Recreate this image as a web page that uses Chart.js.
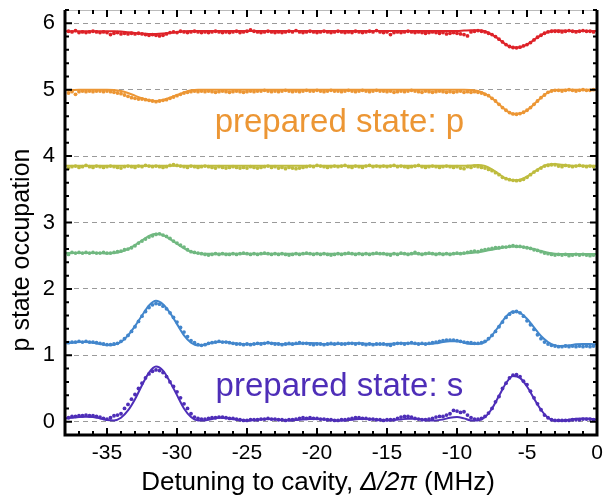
<!DOCTYPE html>
<html>
<head>
<meta charset="utf-8">
<script src="https://cdn.jsdelivr.net/npm/chart.js@4.4.0/dist/chart.umd.min.js"></script>
<style>
  html, body { margin: 0; padding: 0; background: #fff; }
  #wrap { width: 612px; height: 497px; position: relative; }
</style>
</head>
<body>
<div id="wrap"><canvas id="chart"></canvas></div>
<script>
// x grid of the measured points (MHz) and of the fitted curves
const pointX = Array.from({ length: 151 }, (_, i) => -37.75 + 0.25 * i);
const fitX = Array.from({ length: 77 }, (_, i) => -38 + 0.5 * i);

const xTicks = [-35, -30, -25, -20, -15, -10, -5, 0];
const yTicks = [0, 1, 2, 3, 4, 5, 6];

// measured points, one array per prepared state curve
const redPts = [
  5.88,5.87,5.89,5.86,5.87,5.86,5.87,5.88,5.87,5.86,
  5.87,5.86,5.83,5.85,5.86,5.84,5.85,5.84,5.85,5.84,
  5.85,5.84,5.83,5.82,5.83,5.82,5.81,5.82,5.84,5.86,
  5.87,5.86,5.88,5.87,5.86,5.87,5.88,5.87,5.86,5.87,
  5.86,5.87,5.88,5.87,5.86,5.87,5.86,5.87,5.88,5.86,
  5.87,5.88,5.90,5.88,5.87,5.86,5.87,5.88,5.87,5.86,
  5.87,5.86,5.87,5.88,5.87,5.89,5.87,5.86,5.87,5.88,
  5.87,5.86,5.87,5.88,5.87,5.86,5.87,5.88,5.87,5.86,
  5.87,5.86,5.88,5.87,5.86,5.87,5.88,5.87,5.89,5.87,
  5.86,5.87,5.83,5.86,5.87,5.86,5.87,5.88,5.87,5.86,
  5.87,5.86,5.85,5.86,5.87,5.86,5.85,5.86,5.84,5.85,
  5.86,5.85,5.84,5.83,5.81,5.87,5.88,5.89,5.88,5.87,
  5.85,5.83,5.80,5.76,5.72,5.68,5.65,5.635,5.63,5.64,
  5.66,5.68,5.71,5.75,5.79,5.82,5.85,5.87,5.88,5.88,
  5.88,5.87,5.88,5.89,5.88,5.87,5.88,5.89,5.88,5.88,
  5.87
];
const orangePts = [
  4.95,4.97,4.93,4.97,4.98,4.97,4.98,4.97,4.98,4.98,
  4.97,4.98,4.97,4.96,4.95,4.94,4.92,4.90,4.88,4.87,
  4.86,4.86,4.85,4.84,4.83,4.82,4.83,4.84,4.85,4.87,
  4.89,4.91,4.93,4.95,4.96,4.97,4.98,4.97,4.98,4.97,
  4.98,4.97,4.96,4.97,4.98,4.97,4.96,4.97,4.98,4.97,
  4.96,4.97,4.98,4.97,4.98,4.98,4.99,4.98,4.97,4.98,
  4.97,4.98,4.99,4.98,4.97,4.98,4.97,4.98,4.99,4.98,
  4.98,4.99,4.98,4.97,4.98,4.99,4.98,4.98,4.97,4.98,
  4.99,4.98,4.97,4.98,4.99,4.98,4.97,4.98,4.99,4.98,
  4.98,4.97,4.98,4.96,4.97,4.98,4.97,4.98,4.99,4.98,
  4.97,4.96,4.98,4.97,4.96,4.97,4.98,4.97,4.96,4.97,
  4.96,4.97,4.98,4.96,4.97,4.96,4.97,4.96,4.95,4.93,
  4.91,4.87,4.83,4.78,4.73,4.69,4.655,4.635,4.63,4.64,
  4.66,4.69,4.73,4.78,4.83,4.88,4.92,4.96,4.98,4.99,
  4.99,4.98,4.99,5.00,4.99,4.98,4.99,5.00,4.99,4.99,
  5.00
];
const yellowPts = [
  3.82,3.84,3.85,3.83,3.84,3.86,3.84,3.83,3.85,3.84,
  3.83,3.84,3.85,3.84,3.83,3.82,3.84,3.85,3.84,3.83,
  3.85,3.84,3.86,3.85,3.84,3.85,3.84,3.83,3.84,3.86,
  3.87,3.86,3.85,3.84,3.83,3.85,3.84,3.83,3.84,3.85,
  3.84,3.83,3.82,3.84,3.83,3.82,3.83,3.84,3.83,3.82,
  3.83,3.82,3.84,3.83,3.82,3.83,3.84,3.85,3.83,3.84,
  3.82,3.83,3.81,3.83,3.82,3.81,3.82,3.83,3.84,3.85,
  3.84,3.86,3.85,3.84,3.83,3.84,3.85,3.84,3.85,3.86,
  3.84,3.83,3.85,3.84,3.83,3.85,3.86,3.84,3.85,3.84,
  3.85,3.84,3.85,3.86,3.84,3.85,3.84,3.83,3.84,3.85,
  3.86,3.84,3.83,3.84,3.85,3.84,3.83,3.84,3.85,3.84,
  3.83,3.84,3.82,3.81,3.84,3.83,3.85,3.84,3.83,3.82,
  3.80,3.78,3.75,3.72,3.68,3.66,3.645,3.635,3.63,3.635,
  3.65,3.68,3.72,3.76,3.79,3.82,3.85,3.86,3.87,3.87,
  3.85,3.84,3.86,3.85,3.84,3.85,3.86,3.85,3.84,3.85,
  3.84
];
const greenPts = [
  2.52,2.55,2.54,2.55,2.54,2.55,2.54,2.55,2.54,2.54,
  2.55,2.54,2.54,2.55,2.56,2.57,2.59,2.60,2.62,2.65,
  2.69,2.72,2.75,2.78,2.80,2.82,2.83,2.81,2.79,2.76,
  2.72,2.69,2.66,2.63,2.59,2.56,2.55,2.54,2.53,2.52,
  2.51,2.52,2.53,2.52,2.53,2.52,2.52,2.53,2.52,2.53,
  2.54,2.53,2.52,2.53,2.52,2.53,2.54,2.53,2.52,2.53,
  2.52,2.53,2.52,2.51,2.52,2.53,2.52,2.53,2.54,2.53,
  2.52,2.53,2.52,2.53,2.52,2.51,2.52,2.53,2.52,2.53,
  2.54,2.53,2.52,2.53,2.52,2.53,2.52,2.53,2.54,2.53,
  2.53,2.52,2.51,2.53,2.52,2.54,2.53,2.52,2.53,2.55,
  2.53,2.52,2.53,2.54,2.53,2.52,2.53,2.52,2.53,2.52,
  2.53,2.54,2.53,2.54,2.55,2.56,2.57,2.56,2.58,2.59,
  2.60,2.61,2.62,2.62,2.63,2.63,2.64,2.65,2.64,2.64,
  2.63,2.62,2.61,2.59,2.58,2.56,2.54,2.53,2.52,2.51,
  2.52,2.51,2.52,2.50,2.51,2.52,2.51,2.52,2.51,2.50,
  2.51
];
const bluePts = [
  1.19,1.20,1.20,1.21,1.20,1.21,1.20,1.20,1.19,1.18,
  1.17,1.16,1.16,1.17,1.18,1.21,1.25,1.30,1.36,1.43,
  1.51,1.59,1.66,1.72,1.76,1.78,1.77,1.74,1.70,1.64,
  1.57,1.50,1.42,1.35,1.28,1.22,1.19,1.16,1.15,1.16,
  1.18,1.19,1.20,1.21,1.20,1.20,1.19,1.18,1.17,1.17,
  1.16,1.17,1.16,1.17,1.18,1.17,1.18,1.19,1.18,1.17,
  1.17,1.16,1.17,1.18,1.17,1.18,1.19,1.18,1.18,1.17,
  1.16,1.17,1.17,1.16,1.17,1.18,1.17,1.18,1.17,1.17,
  1.18,1.18,1.17,1.18,1.17,1.16,1.17,1.16,1.17,1.17,
  1.17,1.16,1.15,1.17,1.18,1.18,1.17,1.18,1.19,1.18,
  1.17,1.18,1.17,1.18,1.19,1.20,1.21,1.22,1.23,1.23,
  1.23,1.22,1.21,1.20,1.19,1.19,1.18,1.18,1.19,1.21,
  1.25,1.30,1.36,1.43,1.50,1.57,1.62,1.65,1.66,1.64,
  1.59,1.52,1.46,1.39,1.31,1.25,1.20,1.17,1.15,1.14,
  1.13,1.13,1.14,1.13,1.14,1.13,1.14,1.13,1.14,1.13,
  1.14
];
const purplePts = [
  0.06,0.08,0.08,0.09,0.09,0.10,0.09,0.09,0.08,0.07,
  0.05,0.04,0.06,0.09,0.10,0.12,0.20,0.26,0.34,0.41,
  0.50,0.58,0.66,0.72,0.76,0.78,0.77,0.74,0.68,0.60,
  0.53,0.45,0.36,0.27,0.20,0.12,0.07,0.05,0.04,0.04,
  0.05,0.06,0.06,0.07,0.07,0.06,0.05,0.05,0.04,0.03,
  0.02,0.02,0.03,0.03,0.03,0.04,0.04,0.05,0.04,0.04,
  0.03,0.03,0.02,0.03,0.03,0.04,0.05,0.06,0.05,0.06,
  0.05,0.05,0.04,0.04,0.03,0.03,0.02,0.02,0.03,0.03,
  0.04,0.05,0.06,0.06,0.05,0.05,0.04,0.04,0.03,0.03,
  0.02,0.03,0.03,0.03,0.05,0.07,0.08,0.08,0.07,0.05,
  0.04,0.03,0.03,0.04,0.05,0.07,0.08,0.08,0.10,0.12,
  0.17,0.16,0.14,0.15,0.10,0.06,0.04,0.04,0.05,0.08,
  0.13,0.20,0.30,0.38,0.50,0.58,0.66,0.70,0.71,0.68,
  0.61,0.56,0.46,0.36,0.27,0.18,0.10,0.06,0.03,0.02,
  0.02,0.02,0.02,0.02,0.03,0.03,0.03,0.04,0.04,0.04,
  0.03
];

// fitted curves, sampled every 0.5 MHz from -38 to 0
const redFit = [
  5.88,5.88,5.88,5.88,5.88,5.88,5.88,5.88,5.875,5.865,
  5.855,5.845,5.84,5.84,5.845,5.855,5.87,5.88,5.885,5.885,
  5.885,5.885,5.885,5.885,5.885,5.885,5.885,5.885,5.885,5.885,
  5.885,5.885,5.885,5.885,5.885,5.885,5.885,5.885,5.885,5.885,
  5.885,5.885,5.885,5.885,5.885,5.885,5.885,5.885,5.885,5.885,
  5.885,5.885,5.885,5.885,5.885,5.885,5.885,5.89,5.895,5.895,
  5.88,5.83,5.76,5.68,5.635,5.64,5.68,5.75,5.82,5.87,
  5.89,5.89,5.885,5.885,5.885,5.885,5.885
];
const orangeFit = [
  4.99,4.995,5.0,5.0,5.0,5.0,5.0,4.995,4.98,4.95,
  4.91,4.87,4.84,4.83,4.845,4.88,4.92,4.96,4.99,5.0,
  5.0,5.0,5.0,5.0,5.0,5.0,5.0,5.0,5.0,5.0,
  5.0,5.0,5.0,5.0,5.0,5.0,5.0,5.0,5.0,5.0,
  5.0,5.0,5.0,5.0,5.0,5.0,5.0,5.0,5.0,5.0,
  5.0,5.0,5.0,5.0,5.0,5.0,5.0,5.0,4.995,4.98,
  4.94,4.87,4.78,4.69,4.635,4.64,4.69,4.78,4.88,4.96,
  4.995,5.0,5.0,5.0,5.0,5.0,5.0
];
const yellowFit = [
  3.855,3.855,3.855,3.855,3.855,3.855,3.855,3.855,3.855,3.855,
  3.855,3.855,3.855,3.855,3.855,3.855,3.855,3.855,3.855,3.855,
  3.855,3.855,3.855,3.855,3.855,3.855,3.855,3.855,3.855,3.855,
  3.855,3.855,3.855,3.855,3.855,3.855,3.855,3.855,3.855,3.855,
  3.855,3.855,3.855,3.855,3.855,3.855,3.855,3.855,3.855,3.855,
  3.855,3.855,3.855,3.855,3.855,3.855,3.855,3.855,3.86,3.865,
  3.85,3.80,3.73,3.66,3.635,3.645,3.69,3.76,3.83,3.875,
  3.88,3.87,3.86,3.855,3.855,3.855,3.855
];
const greenFit = [
  2.54,2.54,2.54,2.54,2.54,2.54,2.535,2.54,2.56,2.60,
  2.66,2.73,2.80,2.83,2.81,2.75,2.68,2.61,2.56,2.535,
  2.53,2.53,2.53,2.53,2.53,2.53,2.53,2.53,2.53,2.53,
  2.53,2.53,2.53,2.53,2.53,2.53,2.53,2.53,2.53,2.53,
  2.53,2.53,2.53,2.53,2.53,2.53,2.53,2.53,2.53,2.53,
  2.53,2.53,2.53,2.53,2.53,2.53,2.53,2.535,2.54,2.55,
  2.57,2.59,2.61,2.63,2.64,2.635,2.62,2.60,2.57,2.545,
  2.53,2.525,2.525,2.525,2.525,2.525,2.525
];
const blueFit = [
  1.18,1.19,1.20,1.20,1.19,1.17,1.155,1.16,1.20,1.30,
  1.44,1.60,1.75,1.82,1.77,1.64,1.47,1.30,1.19,1.15,
  1.16,1.19,1.20,1.20,1.18,1.17,1.165,1.17,1.18,1.185,
  1.18,1.17,1.165,1.17,1.18,1.185,1.18,1.17,1.165,1.17,
  1.175,1.18,1.18,1.175,1.17,1.165,1.17,1.175,1.18,1.18,
  1.175,1.17,1.17,1.18,1.20,1.21,1.21,1.19,1.17,1.17,
  1.20,1.30,1.44,1.58,1.66,1.64,1.55,1.42,1.29,1.20,
  1.15,1.14,1.15,1.165,1.17,1.17,1.165
];
const purpleFit = [
  0.05,0.06,0.07,0.075,0.07,0.05,0.025,0.02,0.06,0.17,
  0.34,0.55,0.74,0.83,0.77,0.60,0.40,0.20,0.07,0.02,
  0.02,0.04,0.06,0.055,0.04,0.025,0.02,0.025,0.035,0.04,
  0.035,0.025,0.02,0.025,0.035,0.04,0.04,0.035,0.025,0.02,
  0.02,0.03,0.04,0.04,0.035,0.025,0.02,0.025,0.035,0.045,
  0.045,0.035,0.02,0.02,0.035,0.06,0.07,0.05,0.02,0.02,
  0.07,0.20,0.39,0.58,0.69,0.66,0.53,0.35,0.18,0.06,
  0.02,0.02,0.03,0.045,0.05,0.045,0.035
];

const seriesList = [
  { name: 'red', pts: redPts, fit: redFit, color: 'rgb(222,34,40)' },
  { name: 'orange', pts: orangePts, fit: orangeFit, color: 'rgb(236,150,52)' },
  { name: 'yellow', pts: yellowPts, fit: yellowFit, color: 'rgb(190,188,62)' },
  { name: 'green', pts: greenPts, fit: greenFit, color: 'rgb(112,184,128)' },
  { name: 'blue', pts: bluePts, fit: blueFit, color: 'rgb(66,134,204)' },
  { name: 'purple', pts: purplePts, fit: purpleFit, color: 'rgb(78,46,184)' }
];

// text labels in data coordinates
const labelP = { text: 'prepared state: p', x: -18.4, y: 4.5, color: 'rgb(236,150,52)' };
const labelS = { text: 'prepared state: s', x: -18.4, y: 0.52, color: 'rgb(78,46,184)' };

const FONT = '"Liberation Sans", Arial, sans-serif';

const datasets = [];
seriesList.forEach(s => {
  datasets.push({
    label: s.name + ' fit',
    data: fitX.map((x, i) => ({ x: x, y: s.fit[i] })),
    showLine: true,
    borderColor: s.color,
    borderWidth: 2,
    pointRadius: 0,
    cubicInterpolationMode: 'monotone',
    order: 1
  });
  datasets.push({
    label: s.name,
    data: pointX.map((x, i) => ({ x: x, y: s.pts[i] })),
    showLine: false,
    backgroundColor: s.color,
    borderWidth: 0,
    pointRadius: 1.9,
    order: 2
  });
});

// frame, inward ticks, labels and axis titles
const framePlugin = {
  id: 'frame',
  afterDraw(chart) {
    const { ctx, chartArea: a, scales } = chart;
    const xs = scales.x, ys = scales.y;
    ctx.save();
    // top border: thin grey
    ctx.strokeStyle = '#bbb';
    ctx.lineWidth = 1;
    ctx.beginPath();
    ctx.moveTo(a.left, a.top + 0.5);
    ctx.lineTo(a.right, a.top + 0.5);
    ctx.stroke();
    ctx.strokeStyle = '#000';
    ctx.lineWidth = 3;
    ctx.beginPath();
    ctx.moveTo(a.left, a.top);
    ctx.lineTo(a.left, a.bottom);
    ctx.lineTo(a.right, a.bottom);
    ctx.lineTo(a.right, a.top);
    ctx.stroke();

    ctx.lineWidth = 2;
    ctx.beginPath();
    for (let v = -38; v <= 0; v += 1) {
      const px = xs.getPixelForValue(v);
      const len = v % 5 === 0 ? 7 : 4;
      ctx.moveTo(px, a.bottom);
      ctx.lineTo(px, a.bottom - len);
      ctx.moveTo(px, a.top);
      ctx.lineTo(px, a.top + len);
    }
    for (let k = -1; k <= 31; k++) {
      const v = k * 0.2;
      const py = ys.getPixelForValue(v);
      const len = k % 5 === 0 ? 7 : 4;
      ctx.moveTo(a.left, py);
      ctx.lineTo(a.left + len, py);
      ctx.moveTo(a.right, py);
      ctx.lineTo(a.right - len, py);
    }
    ctx.stroke();

    // state labels
    ctx.font = '33px ' + FONT;
    ctx.textAlign = 'center';
    ctx.textBaseline = 'middle';
    [labelP, labelS].forEach(l => {
      ctx.fillStyle = l.color;
      ctx.fillText(l.text, xs.getPixelForValue(l.x), ys.getPixelForValue(l.y));
    });

    // y title
    ctx.fillStyle = '#000';
    ctx.save();
    ctx.translate(22, 250);
    ctx.rotate(-Math.PI / 2);
    ctx.font = '25px ' + FONT;
    ctx.fillText('p state occupation', 0, 0);
    ctx.restore();

    // x title with italic part
    const parts = [
      { t: 'Detuning to cavity, ', f: '26px ' + FONT },
      { t: '\u0394/2\u03c0', f: 'italic 26px ' + FONT },
      { t: ' (MHz)', f: '26px ' + FONT }
    ];
    let total = 0;
    parts.forEach(p => { ctx.font = p.f; p.w = ctx.measureText(p.t).width; total += p.w; });
    let cx = 318 - total / 2;
    ctx.textAlign = 'left';
    parts.forEach(p => { ctx.font = p.f; ctx.fillText(p.t, cx, 483); cx += p.w; });
    ctx.restore();
  }
};

new Chart(document.getElementById('chart'), {
  type: 'scatter',
  data: { datasets: datasets },
  plugins: [framePlugin],
  options: {
    responsive: true,
    maintainAspectRatio: false,
    animation: false,
    layout: { padding: { top: 10, right: 15, left: 0, bottom: 0 } },
    plugins: { legend: { display: false }, tooltip: { enabled: false } },
    scales: {
      x: {
        type: 'linear',
        min: -38,
        max: 0,
        afterBuildTicks: s => { s.ticks = xTicks.map(v => ({ value: v })); },
        afterFit: s => { s.height = 62; s.paddingLeft = 0; s.paddingRight = 0; },
        grid: { display: false, drawTicks: false },
        border: { display: false },
        ticks: { color: '#000', font: { size: 21, family: FONT }, padding: 6, maxRotation: 0 }
      },
      y: {
        type: 'linear',
        min: -0.2,
        max: 6.2,
        afterBuildTicks: s => { s.ticks = yTicks.map(v => ({ value: v })); },
        afterFit: s => { s.width = 65; s.paddingTop = 0; s.paddingBottom = 0; },
        grid: { color: '#9a9a9a', lineWidth: 1, drawTicks: false },
        border: { display: false, dash: [5, 4] },
        ticks: { color: '#000', font: { size: 22, family: FONT }, padding: 10 }
      }
    }
  }
});
</script>
</body>
</html>
